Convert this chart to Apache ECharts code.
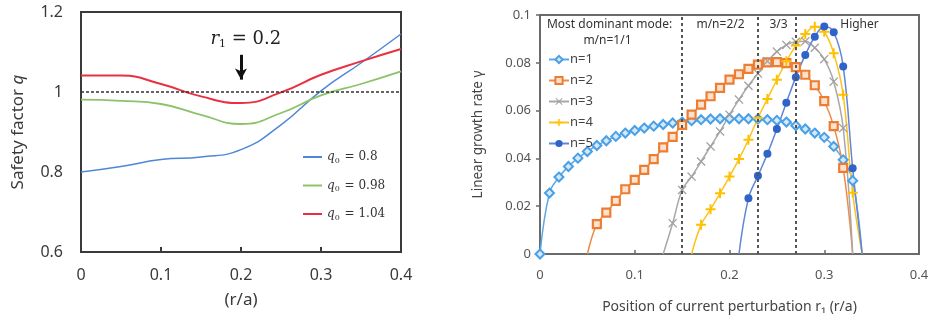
<!DOCTYPE html>
<html>
<head>
<meta charset="utf-8">
<script src="https://cdn.jsdelivr.net/npm/echarts@6/dist/echarts.min.js"></script>
<style>
  html, body { margin: 0; padding: 0; background: #fff; }
  #chart { width: 933px; height: 322px; }
</style>
</head>
<body>
<div id="chart"></div>
<script>
// ---- Left panel: safety factor profiles q(r) ----
const radius = [0, 0.05, 0.1, 0.15, 0.2, 0.25, 0.3, 0.35, 0.4];
const qLow  = [0.800, 0.814, 0.831, 0.8375, 0.856, 0.918, 1.003, 1.0725, 1.145];
const qMid  = [0.981, 0.978, 0.970, 0.943, 0.920, 0.9475, 0.9915, 1.020, 1.0515];
const qHigh = [1.0415, 1.041, 1.020, 0.989, 0.9725, 0.999, 1.043, 1.0765, 1.1075];
const qNames = ['0.8', '0.98', '1.04'];

// ---- Right panel: linear growth rate vs. perturbation position ----
const positions = [0, 0.01, 0.02, 0.03, 0.04, 0.05, 0.06, 0.07, 0.08, 0.09,
  0.10, 0.11, 0.12, 0.13, 0.14, 0.15, 0.16, 0.17, 0.18, 0.19,
  0.20, 0.21, 0.22, 0.23, 0.24, 0.25, 0.26, 0.27, 0.28, 0.29,
  0.30, 0.31, 0.32, 0.33, 0.34];
const growthN1 = [0, 0.0255, 0.0322, 0.0366, 0.0401, 0.0429, 0.0454, 0.0474, 0.0492, 0.0506,
  0.0517, 0.0527, 0.0535, 0.0542, 0.0548, 0.0552, 0.0558, 0.0562, 0.0565, 0.0566,
  0.0566, 0.0566, 0.0566, 0.0565, 0.0562, 0.0559, 0.0552, 0.0537, 0.0523, 0.0506,
  0.0488, 0.0450, 0.0394, 0.0307, 0];
const growthN2 = [null, null, null, null, null, 0, 0.0125, 0.0173, 0.0222, 0.0271,
  0.0310, 0.0352, 0.0397, 0.0446, 0.0490, 0.0540, 0.0583, 0.0625, 0.0660, 0.0695,
  0.0730, 0.0752, 0.0775, 0.0792, 0.0802, 0.0803, 0.0799, 0.0782, 0.0750, 0.0706,
  0.0640, 0.0535, 0.0360, 0, null];
const growthN3 = [null, null, null, null, null, null, null, null, null, null,
  null, null, null, 0, 0.0129, 0.0268, 0.0324, 0.0387, 0.0450, 0.0513,
  0.0583, 0.0646, 0.0704, 0.0755, 0.0806, 0.0847, 0.0875, 0.0888, 0.0890, 0.0863,
  0.0815, 0.0721, 0.0527, 0, null];
const growthN4 = [null, null, null, null, null, null, null, null, null, null,
  null, null, null, null, null, null, 0, 0.0122, 0.0187, 0.0254,
  0.0324, 0.0397, 0.0478, 0.0569, 0.0649, 0.0729, 0.0806, 0.0872, 0.0920, 0.0951,
  0.0930, 0.0840, 0.0666, 0.0256, 0];
const growthN5 = [null, null, null, null, null, null, null, null, null, null,
  null, null, null, null, null, null, null, null, null, null,
  null, 0, 0.0233, 0.0327, 0.0419, 0.0523, 0.0633, 0.0740, 0.0833, 0.0909,
  0.0952, 0.0928, 0.0785, 0.0359, 0];
const modeNames = ['n=1', 'n=2', 'n=3', 'n=4', 'n=5'];
const modeBounds = [0.153, 0.233, 0.271];
const regionLabels = ['Most dominant mode:', 'm/n=1/1', 'm/n=2/2', '3/3', 'Higher'];

// marker shapes
const crossPath = 'path://M1,0L5,4L9,0L10,1L6,5L10,9L9,10L5,6L1,10L0,9L4,5L0,1Z';
const plusPath = 'path://M4,0L6,0L6,4L10,4L10,6L6,6L6,10L4,10L4,6L0,6L0,4L4,4Z';

function qSeries(values) {
  return radius.map((r, i) => [r, values[i]]);
}
// points sitting on the zero line past the origin carry no marker
function growthSeries(values) {
  const out = [];
  positions.forEach((r, i) => {
    const g = values[i];
    if (g === null) return;
    if (g === 0 && r > 0) out.push({ value: [r, g], symbol: 'none' });
    else out.push([r, g]);
  });
  return out;
}

const serif = "'DejaVu Serif', 'Liberation Serif', serif";
const sans = "'Noto Sans', 'Open Sans', sans-serif";

const qRich = {
  q: { fontFamily: serif, fontStyle: 'italic', fontSize: 12, color: '#333' },
  s: { fontFamily: serif, fontSize: 8, color: '#333', padding: [7, 1, 0, 0] },
  t: { fontFamily: serif, fontSize: 12, color: '#333' }
};

const leftColors = ['#4f86d6', '#8cc26a', '#ea3040'];
const rightColors = ['#4aa0e6', '#ed7d31', '#a0a0a0', '#ffc000', '#2f63c8'];
const rightLine = ['#5aa8e8', '#ee8a4a', '#a8a8a8', '#ffc21a', '#5f86d8'];

const chart = echarts.init(document.getElementById('chart'), null, { renderer: 'canvas' });

const option = {
  animation: false,
  backgroundColor: '#fff',
  grid: [
    { left: 81, top: 12, width: 320, height: 240, show: true, borderColor: '#3a3a3a', borderWidth: 2, containLabel: false },
    { left: 540, top: 15, width: 379, height: 239, show: true, borderColor: '#6a6a6a', borderWidth: 2, containLabel: false }
  ],
  legend: [
    {
      orient: 'vertical', left: 303, top: 150, padding: 0,
      icon: 'rect', itemWidth: 19, itemHeight: 2, itemGap: 14,
      data: qNames.map(n => 'q0 = ' + n),
      formatter: name => '{q|q}{s|0}{t| = ' + name.split(' = ')[1] + '}',
      textStyle: { rich: qRich, lineHeight: 14 },
      selectedMode: false
    },
    {
      orient: 'vertical', left: 548, top: 53, padding: 0,
      itemWidth: 20, itemHeight: 9, itemGap: 8,
      data: modeNames,
      textStyle: { fontFamily: sans, fontSize: 13, color: '#444', padding: [0, 0, 0, -4] },
      selectedMode: false
    }
  ],
  xAxis: [
    {
      gridIndex: 0, type: 'value', min: 0, max: 0.4, interval: 0.1,
      name: '(r/a)', nameLocation: 'middle', nameGap: 40,
      nameTextStyle: { fontFamily: sans, fontSize: 17, color: '#3a3a3a' },
      axisLine: { lineStyle: { color: '#3a3a3a', width: 2 } },
      axisTick: { inside: true, length: 5, lineStyle: { color: '#3a3a3a', width: 2 } },
      axisLabel: { fontFamily: sans, fontSize: 16, color: '#3a3a3a', margin: 15 },
      splitLine: { show: false }
    },
    {
      gridIndex: 1, type: 'value', min: 0, max: 0.4, interval: 0.1,
      name: 'Position of current perturbation r\u2081 (r/a)', nameLocation: 'middle', nameGap: 46,
      nameTextStyle: { fontFamily: sans, fontSize: 14, color: '#444' },
      axisLine: { lineStyle: { color: '#6a6a6a', width: 2 } },
      axisTick: { inside: true, length: 4, lineStyle: { color: '#6a6a6a', width: 1.5 } },
      axisLabel: { fontFamily: sans, fontSize: 13, color: '#555', margin: 15 },
      splitLine: { show: false }
    }
  ],
  yAxis: [
    {
      gridIndex: 0, type: 'value', min: 0.6, max: 1.2, interval: 0.2,
      name: 'Safety factor {i|q}', nameLocation: 'middle', nameGap: 54,
      nameTextStyle: { fontFamily: sans, fontSize: 17, color: '#3a3a3a',
        rich: { i: { fontFamily: sans, fontStyle: 'italic', fontSize: 17, color: '#3a3a3a' } } },
      axisLine: { lineStyle: { color: '#3a3a3a', width: 2 } },
      axisTick: { show: false },
      axisLabel: { fontFamily: sans, fontSize: 16, color: '#3a3a3a', margin: 18 },
      splitLine: { show: false }
    },
    {
      gridIndex: 1, type: 'value', min: 0, max: 0.1, interval: 0.02,
      name: 'Linear growth rate \u03b3', nameLocation: 'middle', nameGap: 55,
      nameTextStyle: { fontFamily: sans, fontSize: 13.5, color: '#444' },
      axisLine: { lineStyle: { color: '#6a6a6a', width: 2 } },
      axisTick: { inside: false, length: 4, lineStyle: { color: '#6a6a6a', width: 1.5 } },
      axisLabel: { fontFamily: sans, fontSize: 13, color: '#555', margin: 9 },
      splitLine: { show: false }
    }
  ],
  series: [
    {
      name: 'q0 = 0.8', type: 'line', xAxisIndex: 0, yAxisIndex: 0,
      data: qSeries(qLow), symbol: 'none', smooth: 0.5,
      lineStyle: { color: leftColors[0], width: 1.5 }, itemStyle: { color: leftColors[0] }
    },
    {
      name: 'q0 = 0.98', type: 'line', xAxisIndex: 0, yAxisIndex: 0,
      data: qSeries(qMid), symbol: 'none', smooth: 0.5,
      lineStyle: { color: leftColors[1], width: 1.8 }, itemStyle: { color: leftColors[1] }
    },
    {
      name: 'q0 = 1.04', type: 'line', xAxisIndex: 0, yAxisIndex: 0,
      data: qSeries(qHigh), symbol: 'none', smooth: 0.5,
      lineStyle: { color: leftColors[2], width: 2 }, itemStyle: { color: leftColors[2] },
      markLine: {
        silent: true, symbol: 'none', label: { show: false },
        lineStyle: { color: '#333', width: 1.5, type: [3, 2] },
        data: [{ yAxis: 1 }]
      }
    },
    {
      // r1 annotation with downward arrow
      type: 'line', xAxisIndex: 0, yAxisIndex: 0, data: [], silent: true,
      markLine: {
        silent: true, symbol: ['none', 'arrow'], symbolSize: [9, 11],
        label: { show: false },
        lineStyle: { color: '#111', width: 3, type: 'solid' },
        data: [[{ coord: [0.2, 1.093] }, { coord: [0.2, 1.031] }]]
      },
      markPoint: {
        silent: true, symbol: 'circle', symbolSize: 0,
        label: {
          show: true, position: 'inside',
          formatter: '{i|r}{s|1}{t| = 0.2}',
          rich: {
            i: { fontFamily: serif, fontStyle: 'italic', fontSize: 18, color: '#222' },
            s: { fontFamily: serif, fontSize: 11, color: '#222', padding: [9, 0, 0, 0] },
            t: { fontFamily: serif, fontSize: 18, color: '#222' }
          }
        },
        data: [{ coord: [0.206, 1.131] }]
      }
    },
    {
      name: modeNames[0], type: 'line', xAxisIndex: 1, yAxisIndex: 1,
      data: growthSeries(growthN1), smooth: 0.4,
      symbol: 'diamond', symbolSize: 9, showAllSymbol: true,
      lineStyle: { color: rightLine[0], width: 1.5 },
      itemStyle: { color: '#d4e8f8', borderColor: rightColors[0], borderWidth: 2 },
      markLine: {
        silent: true, symbol: 'none', label: { show: false },
        lineStyle: { color: '#555', width: 2, type: [3, 3] },
        data: modeBounds.map(b => ({ xAxis: b }))
      },
      markPoint: {
        silent: true, symbol: 'circle', symbolSize: 0,
        label: { show: true, position: 'inside', fontFamily: sans, fontSize: 12, color: '#333', formatter: p => p.name },
        data: [
          { name: regionLabels[0], coord: [0.0734, 0.0960] },
          { name: regionLabels[1], coord: [0.0712, 0.0891] },
          { name: regionLabels[2], coord: [0.1905, 0.0960] },
          { name: regionLabels[3], coord: [0.2517, 0.0960] },
          { name: regionLabels[4], coord: [0.3372, 0.0960] }
        ]
      }
    },
    {
      name: modeNames[1], type: 'line', xAxisIndex: 1, yAxisIndex: 1,
      data: growthSeries(growthN2), smooth: 0.4,
      symbol: 'rect', symbolSize: 8, showAllSymbol: true,
      lineStyle: { color: rightLine[1], width: 1.5 },
      itemStyle: { color: '#fde3cf', borderColor: rightColors[1], borderWidth: 2.2 }
    },
    {
      name: modeNames[2], type: 'line', xAxisIndex: 1, yAxisIndex: 1,
      data: growthSeries(growthN3), smooth: 0.4,
      symbol: crossPath, symbolSize: 9, showAllSymbol: true,
      lineStyle: { color: rightLine[2], width: 1.5 },
      itemStyle: { color: rightColors[2] }
    },
    {
      name: modeNames[3], type: 'line', xAxisIndex: 1, yAxisIndex: 1,
      data: growthSeries(growthN4), smooth: 0.4,
      symbol: plusPath, symbolSize: 10, showAllSymbol: true,
      lineStyle: { color: rightLine[3], width: 1.5 },
      itemStyle: { color: rightColors[3] }
    },
    {
      name: modeNames[4], type: 'line', xAxisIndex: 1, yAxisIndex: 1,
      data: growthSeries(growthN5), smooth: 0.4,
      symbol: 'circle', symbolSize: 8, showAllSymbol: true,
      lineStyle: { color: rightLine[4], width: 1.5 },
      itemStyle: { color: rightColors[4] }
    }
  ]
};

chart.setOption(option);
</script>
</body>
</html>
